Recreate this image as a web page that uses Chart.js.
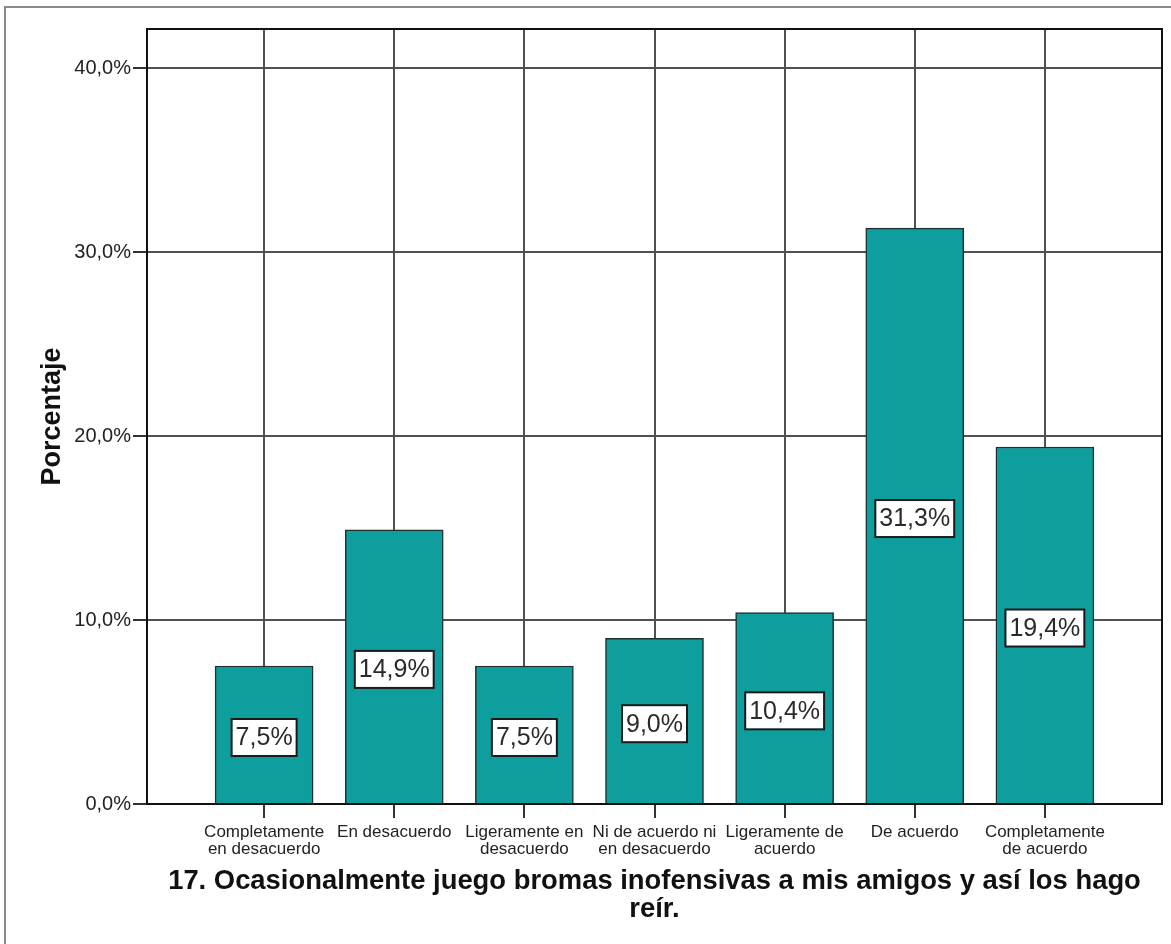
<!DOCTYPE html>
<html><head><meta charset="utf-8">
<script src="https://cdn.jsdelivr.net/npm/chart.js@4/dist/chart.umd.min.js"></script>
<style>html,body{margin:0;padding:0;background:#fff}#wrap{position:relative;width:1171px;height:944px}</style>
</head><body><div id="wrap"><canvas id="c" width="1171" height="944"></canvas></div>
<script>
const categories = [
  ["Completamente", "en desacuerdo"],
  ["En desacuerdo"],
  ["Ligeramente en", "desacuerdo"],
  ["Ni de acuerdo ni", "en desacuerdo"],
  ["Ligeramente de", "acuerdo"],
  ["De acuerdo"],
  ["Completamente", "de acuerdo"]
];
const percentages = [7.5, 14.9, 7.5, 9.0, 10.4, 31.3, 19.4];
const yTicks = [0, 10, 20, 30, 40];
const xTitle = ["17. Ocasionalmente juego bromas inofensivas a mis amigos y así los hago", "reír."];
const yTitle = "Porcentaje";

const FONT = "'Liberation Sans', Arial, sans-serif";
const fmt = v => v.toFixed(1).replace('.', ',') + '%';

const framePlugin = {
  id: 'frame',
  beforeDraw(chart) {
    const ctx = chart.ctx;
    ctx.save();
    ctx.fillStyle = '#fff';
    ctx.fillRect(0, 0, chart.width, chart.height);
    ctx.strokeStyle = '#8a8a8a';
    ctx.lineWidth = 2;
    ctx.beginPath();
    ctx.moveTo(5, chart.height);
    ctx.lineTo(5, 7);
    ctx.lineTo(chart.width, 7);
    ctx.stroke();
    ctx.restore();
  },
  afterDatasetsDraw(chart) {
    const ctx = chart.ctx;
    const a = chart.chartArea;
    ctx.save();
    ctx.strokeStyle = '#111';
    ctx.lineWidth = 2;
    ctx.strokeRect(a.left, a.top, a.right - a.left, a.bottom - a.top);
    const meta = chart.getDatasetMeta(0);
    const ys = chart.scales.y;
    ctx.font = "25px " + FONT;
    ctx.textAlign = 'center';
    ctx.textBaseline = 'middle';
    meta.data.forEach((bar, i) => {
      const v = percentages[i];
      const txt = fmt(v);
      const cy = ys.getPixelForValue(v / 2) + 2.5;
      const w = ctx.measureText(txt).width + 8;
      const h = 37;
      ctx.fillStyle = '#fff';
      ctx.fillRect(bar.x - w / 2, cy - h / 2, w, h);
      ctx.strokeStyle = '#1a1a1a';
      ctx.lineWidth = 2;
      ctx.strokeRect(bar.x - w / 2, cy - h / 2, w, h);
      ctx.fillStyle = '#2a2a2a';
      ctx.fillText(txt, bar.x, cy + 1);
    });
    ctx.restore();
  }
};

new Chart(document.getElementById('c'), {
  type: 'bar',
  data: {
    datasets: [{
      data: percentages.map((v, i) => ({ x: i, y: v })),
      backgroundColor: '#0e9e9e',
      borderColor: '#1f3030',
      borderWidth: 1.5,
      barThickness: 98
    }]
  },
  options: {
    responsive: false,
    animation: false,
    layout: { padding: { left: 0, top: 29, right: 9, bottom: 0 } },
    plugins: { legend: { display: false }, tooltip: { enabled: false } },
    scales: {
      x: {
        type: 'linear',
        min: -0.9,
        max: 6.9,
        offset: false,
        afterBuildTicks: s => { s.ticks = categories.map((c, i) => ({ value: i })); },
        afterFit: s => { s.height = 140; },
        ticks: {
          autoSkip: false,
          maxRotation: 0,
          minRotation: 0,
          padding: 6,
          color: '#222',
          font: { family: FONT, size: 17, lineHeight: 0.98 },
          callback: v => categories[v]
        },
        grid: { offset: false, color: '#505050', lineWidth: 2, tickLength: 14, tickColor: '#333', drawOnChartArea: true },
        border: { display: false },
        title: {
          display: true,
          text: xTitle,
          color: '#111',
          font: { family: FONT, size: 27.4, weight: 'bold', lineHeight: 1.0 },
          padding: { top: 0, bottom: 21 }
        }
      },
      y: {
        type: 'linear',
        min: 0,
        max: 42.12,
        afterBuildTicks: s => { s.ticks = yTicks.map(v => ({ value: v })); },
        afterFit: s => { s.width = 147; },
        ticks: {
          padding: 2,
          color: '#222',
          font: { family: FONT, size: 20 },
          callback: v => fmt(v)
        },
        grid: { color: '#505050', lineWidth: 2, tickLength: 14, tickColor: '#333' },
        border: { display: false },
        title: {
          display: true,
          text: yTitle,
          color: '#111',
          font: { family: FONT, size: 27, weight: 'bold', lineHeight: 1.0 },
          padding: { top: 39, bottom: 0 }
        }
      }
    }
  },
  plugins: [framePlugin]
});
</script>
</body></html>
